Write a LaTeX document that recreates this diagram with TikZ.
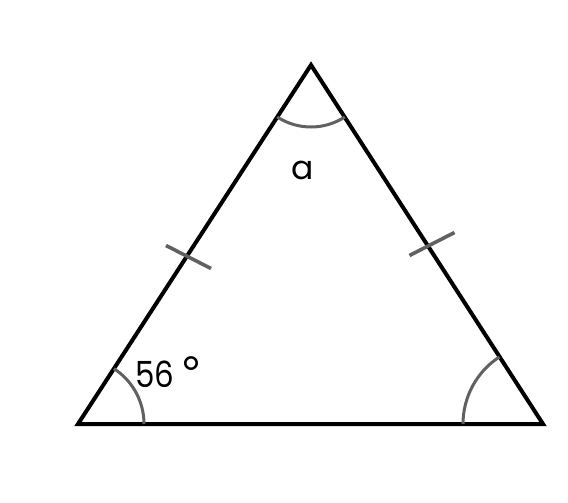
\documentclass[tikz,border=0pt]{standalone}
\usepackage{fontspec}
\setmainfont{Poppins}
\newfontfamily\degfont{Liberation Sans}
\usetikzlibrary{calc}
\begin{document}
\begin{tikzpicture}[x=1pt,y=-1pt,
  side/.style={line width=4pt,line join=miter,black},
  arcmark/.style={line width=3pt,draw=black!62},
  tick/.style={line width=3.6pt,draw=black!62},
  lbl/.style={font=\fontsize{33}{34}\selectfont,inner sep=0pt}]
\useasboundingbox (0,0) rectangle (568,503);
\coordinate (A) at (311,65);
\coordinate (B) at (78,424);
\coordinate (C) at (543,424);
\draw[side] (A) -- (B) -- (C) -- cycle;
% angle arcs
\draw[arcmark] ($(B)+(0:66)$) arc[start angle=0,end angle=-57,radius=66];
\draw[arcmark] ($(C)+(180:80)$) arc[start angle=180,end angle=237,radius=80];
\draw[arcmark] ($(A)+(123:62)$) arc[start angle=123,end angle=57,radius=62];
% ticks
\coordinate (L) at (188.5,257);
\coordinate (R) at (432,244);
\draw[tick] ($(L)+(-22.5,-11.5)$) -- ($(L)+(22.5,11.5)$);
\draw[tick] ($(R)+(-22.5,11.5)$) -- ($(R)+(22.5,-11.5)$);
\node[lbl,anchor=base] (a) at (303,179) {a};
\node[lbl,anchor=base west,font=\fontsize{36}{36}\selectfont] (ang) at (135,387) {\scalebox{0.86}[1]{56}\kern7pt\raisebox{-4pt}{\degfont\fontsize{50}{50}\selectfont°}};
\end{tikzpicture}
\end{document}
